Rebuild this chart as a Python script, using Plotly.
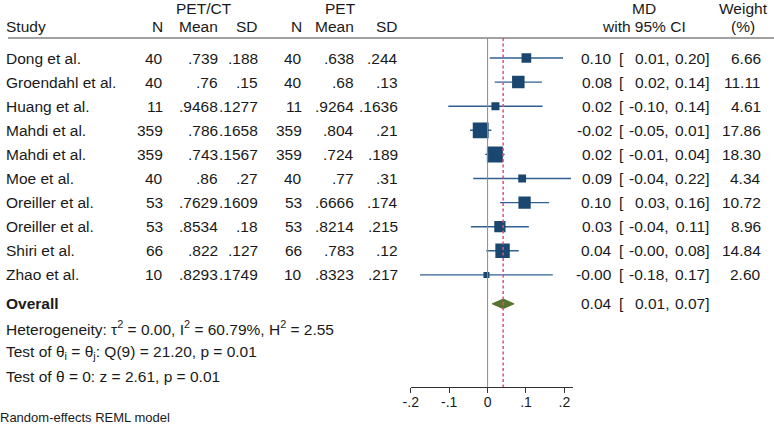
import plotly.graph_objects as go

studies = ["Dong et al.", "Groendahl et al.", "Huang et al.", "Mahdi et al.", "Mahdi et al.",
           "Moe et al.", "Oreiller et al.", "Oreiller et al.", "Shiri et al.", "Zhao et al."]
n1 = ["40", "40", "11", "359", "359", "40", "53", "53", "66", "10"]
mean1 = [".739", ".76", ".9468", ".786", ".743", ".86", ".7629", ".8534", ".822", ".8293"]
sd1 = [".188", ".15", ".1277", ".1658", ".1567", ".27", ".1609", ".18", ".127", ".1749"]
n2 = ["40", "40", "11", "359", "359", "40", "53", "53", "66", "10"]
mean2 = [".638", ".68", ".9264", ".804", ".724", ".77", ".6666", ".8214", ".783", ".8323"]
sd2 = [".244", ".13", ".1636", ".21", ".189", ".31", ".174", ".215", ".12", ".217"]
md = [0.101, 0.080, 0.0204, -0.018, 0.019, 0.090, 0.0963, 0.032, 0.039, -0.003]
ci_lo = [0.0055, 0.0185, -0.1023, -0.0457, -0.0064, -0.0374, 0.0325, -0.0435, -0.0032, -0.1758]
ci_hi = [0.1965, 0.1415, 0.1431, 0.0097, 0.0444, 0.2174, 0.1601, 0.1075, 0.0812, 0.1698]
md_lbl = ["0.10", "0.08", "0.02", "-0.02", "0.02", "0.09", "0.10", "0.03", "0.04", "-0.00"]
lo_lbl = ["0.01", "0.02", "-0.10", "-0.05", "-0.01", "-0.04", "0.03", "-0.04", "-0.00", "-0.18"]
hi_lbl = ["0.20", "0.14", "0.14", "0.01", "0.04", "0.22", "0.16", "0.11", "0.08", "0.17"]
weights = [6.66, 11.11, 4.61, 17.86, 18.30, 4.34, 10.72, 8.96, 14.84, 2.60]
overall = {"md": 0.0405, "lo": 0.012, "hi": 0.069}
overall_lbl = ("0.04", "0.01", "0.07")
tick_vals = [-0.2, -0.1, 0, 0.1, 0.2]
tick_text = ["-.2", "-.1", "0", ".1", ".2"]

W, H = 774, 426
FONT = "Liberation Sans, Arial, sans-serif"
FS = 15.5
TXT = "#1a1a1a"
NAVY = "#1a476f"
CILINE = "#2f6090"
GREEN = "#55752f"
RED = "#e0507a"
LSHIFT = -8

rows = list(range(len(studies)))
r_overall = 10.2
r_het = [11.2, 12.2, 13.2]
r_head1 = -2.07
r_head2 = -1.29
r_line = -0.83
r_axis = 13.65
r_note = 14.9
y_top = -58 / 24.1
y_bot = (H - 58) / 24.1

fig = go.Figure()

for i in rows:
    fig.add_trace(go.Scatter(x=[ci_lo[i], ci_hi[i]], y=[i, i], mode="lines",
                             line=dict(color=CILINE, width=1.4), showlegend=False, hoverinfo="skip"))
fig.add_trace(go.Scatter(x=md, y=rows, mode="markers",
                         marker=dict(symbol="square", color=NAVY, opacity=1,
                                     size=[3.75 * w ** 0.5 for w in weights], line=dict(width=0)),
                         showlegend=False))
dh = 0.2
fig.add_trace(go.Scatter(x=[overall["lo"], overall["md"], overall["hi"], overall["md"], overall["lo"]],
                         y=[r_overall, r_overall - dh, r_overall, r_overall + dh, r_overall],
                         mode="lines", fill="toself", fillcolor=GREEN,
                         line=dict(color=GREEN, width=1), showlegend=False))

shapes = [
    dict(type="line", xref="paper", yref="y", x0=0, x1=1, y0=r_line, y1=r_line,
         line=dict(color="#444444", width=1)),
    dict(type="line", xref="x", yref="y", x0=0, x1=0, y0=r_line, y1=r_axis,
         line=dict(color="#8a8a8a", width=1)),
    dict(type="line", xref="x", yref="y", x0=overall["md"], x1=overall["md"], y0=r_line, y1=r_axis,
         line=dict(color=RED, width=1.5, dash="3px,2.5px")),
]
fig.update_layout(shapes=shapes)

ann = []


def txt(x, y, s, anchor="right", size=FS, bold=False):
    if bold:
        s = "<b>" + s + "</b>"
    if anchor == "left":
        x = x + LSHIFT
    ann.append(dict(x=x / W, y=y, xref="paper", yref="y", text=s, showarrow=False,
                    xanchor=anchor, yanchor="middle", borderpad=0, borderwidth=0,
                    font=dict(family=FONT, size=size, color=TXT)))


cols = {"n1": 157, "m1": 212, "s1": 253, "n2": 297, "m2": 350, "s2": 394}
txt(198, r_head1, "PET/CT", "center")
txt(336, r_head1, "PET", "center")
txt(643, r_head1, "MD", "center")
txt(743, r_head1, "Weight", "center")
txt(6, r_head2, "Study", "left")
txt(cols["n1"], r_head2, "N")
txt(cols["m1"], r_head2, "Mean")
txt(cols["s1"], r_head2, "SD")
txt(cols["n2"], r_head2, "N")
txt(cols["m2"], r_head2, "Mean")
txt(cols["s2"], r_head2, "SD")
txt(643, r_head2, "with 95% CI", "center")
txt(743, r_head2, "(%)", "center")

for i in rows:
    txt(6, i, studies[i], "left")
    txt(cols["n1"], i, n1[i])
    txt(cols["m1"], i, mean1[i])
    txt(cols["s1"], i, sd1[i])
    txt(cols["n2"], i, n2[i])
    txt(cols["m2"], i, mean2[i])
    txt(cols["s2"], i, sd2[i])
    txt(610, i, md_lbl[i])
    txt(622, i, "[")
    txt(668, i, lo_lbl[i] + ",")
    txt(708, i, hi_lbl[i] + "]")
    txt(761, i, f"{weights[i]:.2f}")

txt(6, r_overall, "Overall", "left", bold=True)
txt(610, r_overall, overall_lbl[0])
txt(622, r_overall, "[")
txt(668, r_overall, overall_lbl[1] + ",")
txt(708, r_overall, overall_lbl[2] + "]")

txt(6, r_het[0], "Heterogeneity: τ<sup>2</sup> = 0.00, I<sup>2</sup> = 60.79%, H<sup>2</sup> = 2.55", "left")
txt(6, r_het[1], "Test of θ<sub>i</sub> = θ<sub>j</sub>: Q(9) = 21.20, p = 0.01", "left")
txt(6, r_het[2], "Test of θ = 0: z = 2.61, p = 0.01", "left")
txt(0, r_note, "Random-effects REML model", "left", size=13)

fig.update_layout(annotations=ann)

x0 = 407
scale = 388
xmax = 0.2216
fig.update_layout(
    width=W, height=H, margin=dict(l=0, r=0, t=0, b=0),
    paper_bgcolor="white", plot_bgcolor="white",
    xaxis=dict(domain=[x0 / W, (x0 + (xmax + 0.2) * scale) / W], range=[-0.2, xmax],
               anchor="free", position=1 - 387 / H, showline=True, linecolor="#333333", linewidth=1,
               ticks="outside", ticklen=5, tickcolor="#333333", tickvals=tick_vals, ticktext=tick_text,
               ticklabelstandoff=-3,
               tickfont=dict(family=FONT, size=14, color=TXT), showgrid=False, zeroline=False),
    yaxis=dict(domain=[0, 1], range=[y_bot, y_top], visible=False, showgrid=False, zeroline=False),
)

fig.write_html("out.html")
